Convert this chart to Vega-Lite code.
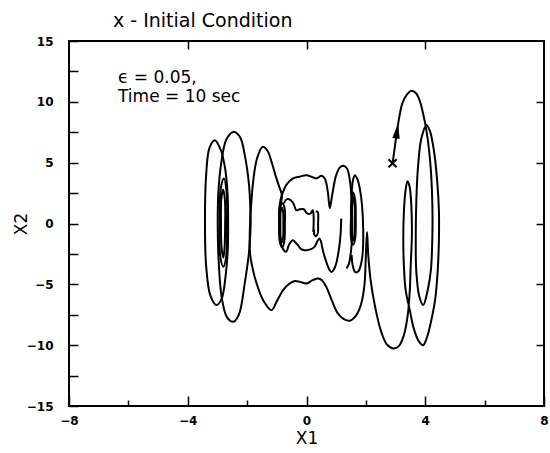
{
 "$schema": "https://vega.github.io/schema/vega-lite/v6.json",
 "width": 475, "height": 365,
 "autosize": {"type": "none"},
 "padding": {"left": 69, "top": 41, "right": 6, "bottom": 47},
 "background": "white",
 "config": {
  "view": {"stroke": "black", "strokeWidth": 2},
  "axis": {"grid": false, "domain": false, "tickColor": "black", "tickWidth": 1.5, "labelColor": "black", "titleColor": "black", "labelFont": "DejaVu Sans", "titleFont": "DejaVu Sans", "labelFontSize": 12, "labelFontWeight": "bold", "titleFontSize": 17, "titleFontWeight": "normal"}
 },
 "title": {"text": "x - Initial Condition", "anchor": "start", "frame": "group", "dx": 44, "offset": 4, "font": "DejaVu Sans", "fontSize": 19, "fontWeight": "normal", "color": "black"},
 "datasets": {
  "t": [
   {"s":"M","i":1,"x":2.9,"y":4.95},{"s":"M","i":2,"x":2.97,"y":6.2},{"s":"M","i":3,"x":3.05,"y":7.6},{"s":"M","i":4,"x":3.13,"y":8.8},{"s":"M","i":5,"x":3.23,"y":9.9},{"s":"M","i":6,"x":3.37,"y":10.55},{"s":"M","i":7,"x":3.53,"y":10.9},{"s":"M","i":8,"x":3.69,"y":10.7},{"s":"M","i":9,"x":3.82,"y":10.05},{"s":"M","i":10,"x":3.92,"y":9.1},
   {"s":"M","i":11,"x":4.03,"y":7.8},{"s":"M","i":12,"x":4.13,"y":6.0},{"s":"M","i":13,"x":4.2,"y":4.0},{"s":"M","i":14,"x":4.24,"y":1.5},{"s":"M","i":15,"x":4.24,"y":-0.96},{"s":"M","i":16,"x":4.19,"y":-3.84},{"s":"M","i":17,"x":4.08,"y":-5.5},{"s":"M","i":18,"x":3.93,"y":-6.7},{"s":"M","i":19,"x":3.8,"y":-6.0},{"s":"M","i":20,"x":3.7,"y":-4.0},
   {"s":"M","i":21,"x":3.68,"y":-1.37},{"s":"M","i":22,"x":3.7,"y":1.91},{"s":"M","i":23,"x":3.76,"y":4.79},{"s":"M","i":24,"x":3.87,"y":7.0},{"s":"M","i":25,"x":4.04,"y":8.07},{"s":"M","i":26,"x":4.15,"y":7.66},{"s":"M","i":27,"x":4.29,"y":6.02},{"s":"M","i":28,"x":4.4,"y":3.56},{"s":"M","i":29,"x":4.46,"y":1.09},{"s":"M","i":30,"x":4.46,"y":-1.37},
   {"s":"M","i":31,"x":4.42,"y":-3.84},{"s":"M","i":32,"x":4.34,"y":-6.14},{"s":"M","i":33,"x":4.19,"y":-8.11},{"s":"M","i":34,"x":4.05,"y":-9.42},{"s":"M","i":35,"x":3.93,"y":-10.0},{"s":"M","i":36,"x":3.78,"y":-9.67},{"s":"M","i":37,"x":3.61,"y":-8.6},{"s":"M","i":38,"x":3.48,"y":-7.12},{"s":"M","i":39,"x":3.34,"y":-5.48},{"s":"M","i":40,"x":3.28,"y":-3.43},
   {"s":"M","i":41,"x":3.26,"y":-1.37},{"s":"M","i":42,"x":3.28,"y":0.93},{"s":"M","i":43,"x":3.33,"y":2.57},{"s":"M","i":44,"x":3.4,"y":3.48},{"s":"M","i":45,"x":3.47,"y":3.07},{"s":"M","i":46,"x":3.53,"y":1.5},{"s":"M","i":47,"x":3.55,"y":-0.96},{"s":"M","i":48,"x":3.51,"y":-3.43},{"s":"M","i":49,"x":3.48,"y":-5.48},{"s":"M","i":50,"x":3.41,"y":-7.53},
   {"s":"M","i":51,"x":3.28,"y":-9.18},{"s":"M","i":52,"x":3.11,"y":-10.08},{"s":"M","i":53,"x":2.92,"y":-10.27},{"s":"M","i":54,"x":2.7,"y":-9.92},{"s":"M","i":55,"x":2.5,"y":-8.77},{"s":"M","i":56,"x":2.3,"y":-6.71},{"s":"M","i":57,"x":2.16,"y":-4.66},{"s":"M","i":58,"x":2.08,"y":-2.6},{"s":"M","i":59,"x":2.04,"y":-0.7},{"s":"M","i":60,"x":2.0,"y":-2.6},
   {"s":"M","i":61,"x":1.95,"y":-5.1},{"s":"M","i":62,"x":1.83,"y":-6.7},{"s":"M","i":63,"x":1.66,"y":-7.6},{"s":"M","i":64,"x":1.46,"y":-7.99},{"s":"M","i":65,"x":1.26,"y":-7.86},{"s":"M","i":66,"x":1.05,"y":-7.37},{"s":"M","i":67,"x":0.85,"y":-6.3},{"s":"M","i":68,"x":0.67,"y":-5.23},{"s":"M","i":69,"x":0.52,"y":-4.66},{"s":"M","i":70,"x":0.39,"y":-4.52},
   {"s":"M","i":71,"x":0.21,"y":-4.66},{"s":"M","i":72,"x":0.0,"y":-4.93},{"s":"M","i":73,"x":-0.19,"y":-4.82},{"s":"M","i":74,"x":-0.39,"y":-4.72},{"s":"M","i":75,"x":-0.6,"y":-4.99},{"s":"M","i":76,"x":-0.79,"y":-5.48},{"s":"M","i":77,"x":-1.0,"y":-6.38},{"s":"M","i":78,"x":-1.18,"y":-7.12},{"s":"M","i":79,"x":-1.46,"y":-6.3},{"s":"M","i":80,"x":-1.68,"y":-4.93},
   {"s":"M","i":81,"x":-1.85,"y":-3.29},{"s":"M","i":82,"x":-1.91,"y":-2.19},{"s":"M","i":83,"x":-1.9,"y":0.0},{"s":"M","i":84,"x":-1.85,"y":2.0},{"s":"M","i":85,"x":-1.78,"y":3.8},{"s":"M","i":86,"x":-1.66,"y":5.4},{"s":"M","i":87,"x":-1.48,"y":6.3},{"s":"M","i":88,"x":-1.32,"y":6.0},{"s":"M","i":89,"x":-1.18,"y":5.1},{"s":"M","i":90,"x":-1.05,"y":4.0},
   {"s":"M","i":91,"x":-0.93,"y":3.1},{"s":"M","i":92,"x":-0.83,"y":2.33},{"s":"M","i":93,"x":-0.88,"y":1.3},{"s":"M","i":94,"x":-0.92,"y":0.0},{"s":"M","i":95,"x":-0.89,"y":-1.3},{"s":"M","i":96,"x":-0.82,"y":-1.95},{"s":"M","i":97,"x":-0.69,"y":-2.33},{"s":"M","i":98,"x":-0.58,"y":-1.7},{"s":"M","i":99,"x":-0.46,"y":-1.37},{"s":"M","i":100,"x":-0.36,"y":-1.6},
   {"s":"M","i":101,"x":-0.29,"y":-1.78},{"s":"M","i":102,"x":-0.18,"y":-2.1},{"s":"M","i":103,"x":-0.07,"y":-2.19},{"s":"M","i":104,"x":0.1,"y":-2.15},{"s":"M","i":105,"x":0.27,"y":-1.92},{"s":"M","i":106,"x":0.38,"y":-1.4},{"s":"M","i":107,"x":0.44,"y":-1.23},{"s":"M","i":108,"x":0.49,"y":-1.5},{"s":"M","i":109,"x":0.56,"y":-2.3},{"s":"M","i":110,"x":0.67,"y":-3.18},
   {"s":"M","i":111,"x":0.77,"y":-3.8},{"s":"M","i":112,"x":0.84,"y":-3.98},{"s":"M","i":113,"x":0.93,"y":-3.75},{"s":"M","i":114,"x":1.01,"y":-3.2},{"s":"M","i":115,"x":1.06,"y":-2.6},{"s":"M","i":116,"x":1.11,"y":-1.8},{"s":"M","i":117,"x":1.15,"y":-0.8},{"s":"M","i":118,"x":1.17,"y":0.4},

   {"s":"T","i":1,"x":-0.93,"y":0.4},{"s":"T","i":2,"x":-0.9,"y":1.6},{"s":"T","i":3,"x":-0.83,"y":2.33},{"s":"T","i":4,"x":-0.66,"y":3.23},{"s":"T","i":5,"x":-0.45,"y":3.7},{"s":"T","i":6,"x":-0.23,"y":3.85},{"s":"T","i":7,"x":0.0,"y":3.97},{"s":"T","i":8,"x":0.21,"y":3.8},{"s":"T","i":9,"x":0.35,"y":3.72},{"s":"T","i":10,"x":0.505,"y":3.93},
   {"s":"T","i":11,"x":0.62,"y":3.68},{"s":"T","i":12,"x":0.72,"y":2.57},{"s":"T","i":13,"x":0.785,"y":1.26},{"s":"T","i":14,"x":0.87,"y":2.41},{"s":"T","i":15,"x":0.99,"y":3.89},{"s":"T","i":16,"x":1.12,"y":4.59},{"s":"T","i":17,"x":1.23,"y":4.75},{"s":"T","i":18,"x":1.36,"y":4.54},{"s":"T","i":19,"x":1.46,"y":3.56},{"s":"T","i":20,"x":1.52,"y":1.91},
   {"s":"T","i":21,"x":1.54,"y":0.0},{"s":"T","i":22,"x":1.51,"y":-2.0},{"s":"T","i":23,"x":1.43,"y":-3.3},{"s":"T","i":24,"x":1.35,"y":-3.7},

   {"s":"G","i":1,"x":1.52,"y":2.2},{"s":"G","i":2,"x":1.56,"y":3.5},{"s":"G","i":3,"x":1.63,"y":3.97},{"s":"G","i":4,"x":1.72,"y":3.6},{"s":"G","i":5,"x":1.8,"y":2.8},{"s":"G","i":6,"x":1.87,"y":1.5},{"s":"G","i":7,"x":1.91,"y":-0.5},{"s":"G","i":8,"x":1.9,"y":-2.2},{"s":"G","i":9,"x":1.84,"y":-3.3},{"s":"G","i":10,"x":1.74,"y":-3.95},{"s":"G","i":11,"x":1.64,"y":-4.0},{"s":"G","i":12,"x":1.56,"y":-3.5},{"s":"G","i":13,"x":1.52,"y":-2.6},

   {"s":"H","i":1,"x":1.5,"y":0.4},{"s":"H","i":2,"x":1.51,"y":1.9},{"s":"H","i":3,"x":1.57,"y":2.55},{"s":"H","i":4,"x":1.64,"y":1.9},{"s":"H","i":5,"x":1.66,"y":0.4},{"s":"H","i":6,"x":1.64,"y":-1.2},{"s":"H","i":7,"x":1.57,"y":-1.75},{"s":"H","i":8,"x":1.5,"y":-1.2},{"s":"H","i":9,"x":1.5,"y":0.4},
   {"s":"H2","i":1,"x":1.53,"y":0.4},{"s":"H2","i":2,"x":1.54,"y":1.6},{"s":"H2","i":3,"x":1.58,"y":2.2},{"s":"H2","i":4,"x":1.62,"y":1.6},{"s":"H2","i":5,"x":1.63,"y":0.4},{"s":"H2","i":6,"x":1.61,"y":-1.0},{"s":"H2","i":7,"x":1.57,"y":-1.4},{"s":"H2","i":8,"x":1.53,"y":-1.0},{"s":"H2","i":9,"x":1.53,"y":0.4},

   {"s":"E","i":1,"x":-0.73,"y":0.0},{"s":"E","i":2,"x":-0.74,"y":1.3},{"s":"E","i":3,"x":-0.82,"y":1.66},{"s":"E","i":4,"x":-0.9,"y":1.3},{"s":"E","i":5,"x":-0.92,"y":0.0},{"s":"E","i":6,"x":-0.9,"y":-1.5},{"s":"E","i":7,"x":-0.82,"y":-1.95},{"s":"E","i":8,"x":-0.75,"y":-1.5},{"s":"E","i":9,"x":-0.73,"y":0.0},
   {"s":"E2","i":1,"x":-0.78,"y":0.0},{"s":"E2","i":2,"x":-0.79,"y":1.0},{"s":"E2","i":3,"x":-0.83,"y":1.3},{"s":"E2","i":4,"x":-0.87,"y":1.0},{"s":"E2","i":5,"x":-0.88,"y":0.0},{"s":"E2","i":6,"x":-0.87,"y":-1.2},{"s":"E2","i":7,"x":-0.83,"y":-1.55},{"s":"E2","i":8,"x":-0.79,"y":-1.2},{"s":"E2","i":9,"x":-0.78,"y":0.0},

   {"s":"U","i":1,"x":-0.76,"y":1.67},{"s":"U","i":2,"x":-0.66,"y":2.0},{"s":"U","i":3,"x":-0.53,"y":1.91},{"s":"U","i":4,"x":-0.43,"y":1.59},{"s":"U","i":5,"x":-0.34,"y":1.09},{"s":"U","i":6,"x":-0.23,"y":1.17},{"s":"U","i":7,"x":-0.09,"y":1.17},{"s":"U","i":8,"x":0.01,"y":0.85},{"s":"U","i":9,"x":0.13,"y":0.81},{"s":"U","i":10,"x":0.21,"y":1.09},{"s":"U","i":11,"x":0.24,"y":0.6},{"s":"U","i":12,"x":0.23,"y":-0.7},

   {"s":"J","i":1,"x":0.31,"y":1.0},{"s":"J","i":2,"x":0.38,"y":0.93},{"s":"J","i":3,"x":0.39,"y":0.0},{"s":"J","i":4,"x":0.38,"y":-0.8},{"s":"J","i":5,"x":0.32,"y":-1.05},{"s":"J","i":6,"x":0.26,"y":-0.9},{"s":"J","i":7,"x":0.26,"y":-0.5},

   {"s":"A","i":1,"x":-2.64,"y":0.0},{"s":"A","i":2,"x":-2.66,"y":2.5},{"s":"A","i":3,"x":-2.74,"y":4.5},{"s":"A","i":4,"x":-2.88,"y":6.0},{"s":"A","i":5,"x":-3.09,"y":6.85},{"s":"A","i":6,"x":-3.27,"y":6.2},{"s":"A","i":7,"x":-3.38,"y":4.0},{"s":"A","i":8,"x":-3.42,"y":0.0},{"s":"A","i":9,"x":-3.38,"y":-3.5},{"s":"A","i":10,"x":-3.24,"y":-5.9},{"s":"A","i":11,"x":-3.03,"y":-6.7},{"s":"A","i":12,"x":-2.86,"y":-6.2},{"s":"A","i":13,"x":-2.72,"y":-4.2},{"s":"A","i":14,"x":-2.65,"y":-2.0},{"s":"A","i":15,"x":-2.64,"y":0.0},

   {"s":"B","i":1,"x":-1.88,"y":0.0},{"s":"B","i":2,"x":-1.93,"y":3.0},{"s":"B","i":3,"x":-2.07,"y":5.5},{"s":"B","i":4,"x":-2.24,"y":7.1},{"s":"B","i":5,"x":-2.47,"y":7.53},{"s":"B","i":6,"x":-2.7,"y":6.9},{"s":"B","i":7,"x":-2.87,"y":5.0},{"s":"B","i":8,"x":-2.97,"y":2.5},{"s":"B","i":9,"x":-2.99,"y":0.0},{"s":"B","i":10,"x":-2.96,"y":-3.0},{"s":"B","i":11,"x":-2.86,"y":-6.0},{"s":"B","i":12,"x":-2.68,"y":-7.7},{"s":"B","i":13,"x":-2.47,"y":-8.08},{"s":"B","i":14,"x":-2.28,"y":-7.5},{"s":"B","i":15,"x":-2.08,"y":-4.9},{"s":"B","i":16,"x":-1.93,"y":-2.2},{"s":"B","i":17,"x":-1.88,"y":0.0},

   {"s":"C","i":1,"x":-2.68,"y":0.0},{"s":"C","i":2,"x":-2.69,"y":2.5},{"s":"C","i":3,"x":-2.78,"y":3.7},{"s":"C","i":4,"x":-2.88,"y":3.0},{"s":"C","i":5,"x":-2.93,"y":0.0},{"s":"C","i":6,"x":-2.9,"y":-2.8},{"s":"C","i":7,"x":-2.8,"y":-3.55},{"s":"C","i":8,"x":-2.71,"y":-2.8},{"s":"C","i":9,"x":-2.68,"y":0.0},
   {"s":"C2","i":1,"x":-2.74,"y":0.0},{"s":"C2","i":2,"x":-2.75,"y":2.0},{"s":"C2","i":3,"x":-2.81,"y":2.8},{"s":"C2","i":4,"x":-2.87,"y":2.0},{"s":"C2","i":5,"x":-2.88,"y":0.0},{"s":"C2","i":6,"x":-2.86,"y":-2.0},{"s":"C2","i":7,"x":-2.8,"y":-2.8},{"s":"C2","i":8,"x":-2.76,"y":-2.0},{"s":"C2","i":9,"x":-2.74,"y":0.0}
  ]
 },
 "layer": [
  {
   "data": {"name": "t"},
   "mark": {"type": "line", "interpolate": "catmull-rom", "color": "black", "strokeWidth": 2},
   "encoding": {
    "x": {"field": "x", "type": "quantitative", "scale": {"domain": [-8, 8], "nice": false, "zero": false},
          "axis": {"orient": "bottom", "values": [-8,-6,-4,-2,0,2,4,6,8], "labelExpr": "datum.value % 4 === 0 ? datum.label : ''", "tickSize": {"condition": {"test": "datum.value % 4 === 0", "value": -10}, "value": -6}, "labelPadding": 19, "labelFlush": false, "title": "X1", "titlePadding": 4}},
    "y": {"field": "y", "type": "quantitative", "scale": {"domain": [-15, 15], "nice": false, "zero": false},
          "axis": {"orient": "left", "values": [-15,-12.5,-10,-7.5,-5,-2.5,0,2.5,5,7.5,10,12.5,15], "labelExpr": "datum.value % 5 === 0 ? datum.label : ''", "tickSize": -9, "labelPadding": 25, "labelFlush": false, "title": "X2", "titlePadding": -4}},
    "detail": {"field": "s"},
    "order": {"field": "i", "type": "quantitative"}
   }
  },
  {
   "data": {"values": [{"x": 2.9, "y": 4.95}]},
   "mark": {"type": "point", "shape": "M-1,-0.7L-0.7,-1L0,-0.3L0.7,-1L1,-0.7L0.3,0L1,0.7L0.7,1L0,0.3L-0.7,1L-1,0.7L-0.3,0Z", "size": 90, "filled": true, "color": "black", "opacity": 1},
   "encoding": {
    "x": {"field": "x", "type": "quantitative", "axis": {"orient": "top", "values": [-4, 0, 4], "labels": false, "tickSize": -8, "title": null}},
    "y": {"field": "y", "type": "quantitative", "axis": {"orient": "right", "values": [-10, -5, 0, 5, 10], "labels": false, "tickSize": -8, "title": null}}
   }
  },
  {
   "data": {"values": [{"x": 3.05, "y": 7.6}]},
   "mark": {"type": "point", "shape": "M0,-1L0.5,1L-0.5,1Z", "size": 225, "filled": true, "color": "black", "opacity": 1, "angle": 8},
   "encoding": {
    "x": {"field": "x", "type": "quantitative", "axis": null},
    "y": {"field": "y", "type": "quantitative", "axis": null}
   }
  },
  {
   "data": {"values": [{"x": -6.35, "y": 12.0, "t": "ϵ = 0.05,"}, {"x": -6.35, "y": 10.4, "t": "Time = 10 sec"}]},
   "mark": {"type": "text", "align": "left", "baseline": "middle", "font": "DejaVu Sans", "fontSize": 17, "color": "black"},
   "encoding": {
    "x": {"field": "x", "type": "quantitative", "axis": null},
    "y": {"field": "y", "type": "quantitative", "axis": null},
    "text": {"field": "t"}
   }
  }
 ],
 "resolve": {"axis": {"x": "independent", "y": "independent"}}
}
